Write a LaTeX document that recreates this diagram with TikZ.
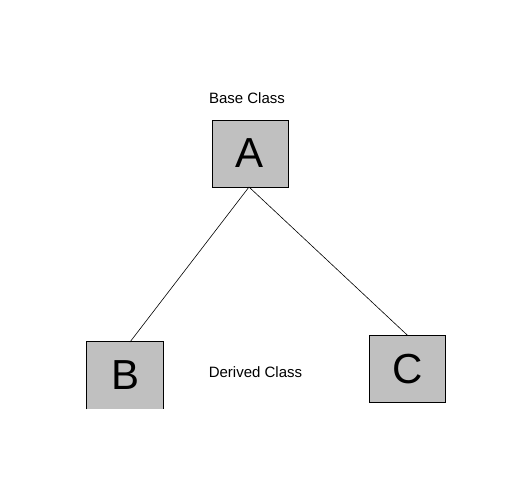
\documentclass[tikz,border=0pt]{standalone}
\usepackage{fontspec}
\setmainfont{Liberation Sans}
\begin{document}
\begin{tikzpicture}[x=1pt,y=-1pt,
  classbox/.style={fill=boxgray,draw=black,line width=0.9pt,minimum width=76pt,minimum height=67pt,inner sep=0pt,font=\fontsize{42}{42}\selectfont},
  lbl/.style={font=\fontsize{15}{16}\selectfont,inner sep=0pt,anchor=base},
  conn/.style={draw=black,line width=0.6pt}]
\definecolor{boxgray}{HTML}{C0C0C0}
\useasboundingbox[fill=white] (0,0) rectangle (516,490);
\node[classbox] (A) at (250,153.5) {A};
\node[classbox,draw=none] (B) at (125.3,375.5) {B};
\draw[line width=0.9pt] (B.south west) -- (B.north west) -- (B.north east) -- (B.south east);
\node[classbox] (C) at (407.3,369) {C};
\node[lbl] (base) at (247,103) {Base Class};
\node[lbl] (derived) at (255.5,377) {Derived Class};
\coordinate (a1) at (249,187);
\coordinate (b1) at (130,342);
\coordinate (c1) at (407.7,335.5);
\draw[conn] (a1) -- (b1);
\draw[conn] (a1) -- (c1);
\end{tikzpicture}
\end{document}
